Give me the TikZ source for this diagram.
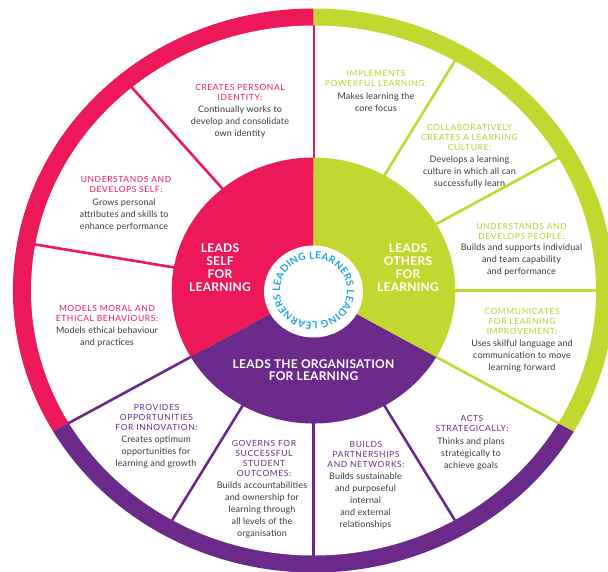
\documentclass[tikz,border=0pt]{standalone}
\usepackage{fontspec}
\setmainfont{Lato}
\newfontfamily\hdfam[LetterSpace=7]{Lato}
\newfontfamily\bdfam[LetterSpace=1.5]{Lato}
\newfontfamily\bgfam[LetterSpace=2]{Lato}
\newfontfamily\rgfam{Lato}
\usetikzlibrary{decorations.text}
\definecolor{lpink}{HTML}{EC1858}
\definecolor{lgreen}{HTML}{C2D830}
\definecolor{lgreentxt}{HTML}{B9D02C}
\definecolor{lpurple}{HTML}{6B2A8A}
\definecolor{lcyan}{HTML}{1CA5E0}
\definecolor{lgray}{HTML}{3A3A3A}
\newcommand\stk[1]{\begin{tabular}[t]{@{}c@{}}#1\end{tabular}}
\newcommand\hdsize{\fontsize{8.5}{10}\selectfont\hdfam}
\newcommand\bdsize{\fontsize{9}{12}\selectfont\bdfam}
\newcommand\bgsize{\fontsize{12}{13}\selectfont\bgfam\bfseries}
\newcommand\bgsizeb{\fontsize{12}{12}\selectfont\bgfam\bfseries}
\newcommand\ringfont{\fontsize{10}{11}\selectfont\rgfam\bfseries\color{lcyan}}
\begin{document}
\begin{tikzpicture}[x=1pt,y=-1pt,
  head/.style={anchor=base, inner sep=0pt, font=\hdsize},
  body/.style={anchor=base, inner sep=0pt, font=\bdsize, text=lgray},
  big/.style={anchor=base, inner sep=0pt, text=white},
  spoke/.style={line width=2.6pt}]
\useasboundingbox (0,0) rectangle (608,571);
\fill[white] (0,0) rectangle (608,571);
\clip (0,0) rectangle (608,571);
\begin{scope}[shift={(313.5,290.5)}, x=1.066pt, y=1pt]
  % outer ring
  \fill[lpink] (0,0) -- (90:282) arc[start angle=90, end angle=210, x radius=300.6pt, y radius=282pt] -- cycle;
  \fill[lpurple] (0,0) -- (210:282) arc[start angle=210, end angle=330, x radius=300.6pt, y radius=282pt] -- cycle;
  \fill[lgreen] (0,0) -- (-30:282) arc[start angle=-30, end angle=90, x radius=300.6pt, y radius=282pt] -- cycle;
  \fill[white] (0,0) circle[x radius=282.5pt, y radius=265pt];
  % spokes
  \draw[lpink, line width=2pt] (90:120) -- (90:266);
  \draw[spoke, lpink] (130:120) -- (130:266);
  \draw[spoke, lpink] (170:120) -- (170:266);
  \draw[spoke, lpurple] (210:120) -- (210:266);
  \draw[spoke, lpurple] (240:120) -- (240:266);
  \draw[spoke, lpurple] (270:120) -- (270:266);
  \draw[spoke, lpurple] (300:120) -- (300:266);
  \draw[spoke, lgreen] (330:120) -- (330:266);
  \draw[spoke, lgreen] (0:120) -- (0:266);
  \draw[spoke, lgreen] (30:120) -- (30:266);
  \draw[spoke, lgreen] (60:120) -- (60:266);
  % inner disk
  \fill[lpink] (0,0) -- (90:133) arc[start angle=90, end angle=210, x radius=141.8pt, y radius=133pt] -- cycle;
  \fill[lpurple] (0,0) -- (210:133) arc[start angle=210, end angle=330, x radius=141.8pt, y radius=133pt] -- cycle;
  \fill[lgreen] (0,0) -- (-30:133) arc[start angle=-30, end angle=90, x radius=141.8pt, y radius=133pt] -- cycle;
  \fill[white] (0,-1) circle[x radius=49.5pt, y radius=46pt];
  \path[decorate, decoration={text along path, text align={fit to path},
     text={|\ringfont|LEADING LEARNERS LEADING LEARNERS}}]
     (182:31.5) arc[start angle=182, end angle=-174, x radius=33.6pt, y radius=31.5pt];
\end{scope}
% big labels
\node[big, font=\bgsize] (self) at (220,252) {\stk{LEADS\\SELF\\FOR\\LEARNING}};
\node[big, font=\bgsize] (others) at (408,252) {\stk{LEADS\\OTHERS\\FOR\\LEARNING}};
\node[big, font=\bgsizeb] (org) at (313.5,368) {\stk{LEADS THE ORGANISATION\\FOR LEARNING}};
% pink sector texts
\node[head, text=lpink] (h1) at (240,90.5) {\stk{CREATES PERSONAL\\IDENTITY:}};
\node[body] (b1) at (240,112) {\stk{Continually works to\\develop and consolidate\\own identity}};
\node[head, text=lpink] (h2) at (126,182.5) {\stk{UNDERSTANDS AND\\DEVELOPS SELF:}};
\node[body] (b2) at (124,205) {\stk{Grows personal\\attributes and skills to\\enhance performance}};
\node[head, text=lpink] (h3) at (107,311.5) {\stk{MODELS MORAL AND\\ETHICAL BEHAVIOURS:}};
\node[body] (b3) at (107,333) {\stk{Models ethical behaviour\\and practices}};
% green sector texts
\node[head, text=lgreentxt] (h4) at (376,76.5) {\stk{IMPLEMENTS\\POWERFUL LEARNING:}};
\node[body] (b4) at (376,99) {\stk{Makes learning the\\core focus}};
\node[head, text=lgreentxt] (h5) at (469.5,130.5) {\stk{COLLABORATIVELY\\CREATES A LEARNING\\CULTURE:}};
\node[body] (b5) at (469.5,162) {\stk{Develops a learning\\culture in which all can\\successfully learn}};
\node[head, text=lgreentxt] (h6) at (521.5,229.5) {\stk{UNDERSTANDS AND\\DEVELOPS PEOPLE:}};
\node[body] (b6) at (521.5,250) {\stk{Builds and supports individual\\and team capability\\and performance}};
\node[head, text=lgreentxt] (h7) at (522,314.5) {\stk{COMMUNICATES\\FOR LEARNING\\IMPROVEMENT:}};
\node[body] (b7) at (522,346) {\stk{Uses skilful language and\\communication to move\\learning forward}};
% purple sector texts
\node[head, text=lpurple] (h8) at (472,421.5) {\stk{ACTS\\STRATEGICALLY:}};
\node[body] (b8) at (471,444) {\stk{Thinks and plans\\strategically to\\achieve goals}};
\node[head, text=lpurple] (h9) at (366,447.5) {\stk{BUILDS\\PARTNERSHIPS\\AND NETWORKS:}};
\node[body] (b9) at (365.5,479) {\stk{Builds sustainable\\and purposeful\\internal\\and external\\relationships}};
\node[head, text=lpurple] (h10) at (264,446.5) {\stk{GOVERNS FOR\\SUCCESSFUL\\STUDENT\\OUTCOMES:}};
\node[body] (b10) at (262,488) {\stk{Builds accountabilities\\and ownership for\\learning through\\all levels of the\\organisation}};
\node[head, text=lpurple] (h11) at (156.5,410.5) {\stk{PROVIDES\\OPPORTUNITIES\\FOR INNOVATION:}};
\node[body] (b11) at (156,442) {\stk{Creates optimum\\opportunities for\\learning and growth}};
\end{tikzpicture}
\end{document}
